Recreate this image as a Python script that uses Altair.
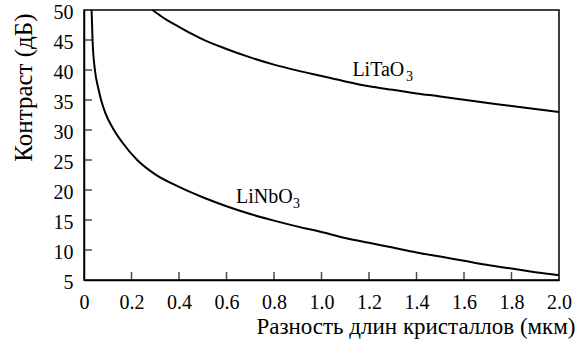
import altair as alt
import pandas as pd

# LiNbO3 curve (contrast in dB vs crystal length difference, µm)
nb_x = [0.032, 0.036, 0.046, 0.06, 0.072, 0.09, 0.126, 0.16, 0.224, 0.3, 0.407,
        0.5, 0.6, 0.7, 0.8, 0.9, 1.0, 1.1, 1.2, 1.3, 1.4, 1.5, 1.6, 1.7, 1.8, 1.9, 2.0]
nb_y = [50, 45, 40, 37, 35, 32.8, 30, 28, 25, 22.6, 20.4,
        18.8, 17.3, 16.0, 14.9, 13.9, 13.0, 12.0, 11.2, 10.4, 9.6, 8.9, 8.2, 7.5, 6.9, 6.3, 5.8]

# LiTaO3 curve
ta_x = [0.288, 0.32, 0.35, 0.4, 0.45, 0.5, 0.6, 0.7, 0.8, 0.9, 1.0, 1.1, 1.2, 1.3, 1.4,
        1.5, 1.6, 1.7, 1.8, 1.9, 2.0]
ta_y = [50, 49.1, 48.3, 47.2, 46.1, 45.1, 43.5, 42.1, 40.9, 39.9, 39.0, 38.1, 37.3, 36.7,
        36.1, 35.6, 35.05, 34.5, 34.0, 33.5, 33.0]

x_ticks = [0, 0.2, 0.4, 0.6, 0.8, 1.0, 1.2, 1.4, 1.6, 1.8, 2.0]
y_ticks = [5, 10, 15, 20, 25, 30, 35, 40, 45, 50]
x_inner = [0.2, 0.4, 0.6, 0.8, 1.0, 1.2, 1.4, 1.6, 1.8]
y_inner = [10, 15, 20, 25, 30, 35, 40, 45]

ta_label = ("LiTaO", "3", 1.13, 39.0)
nb_label = ("LiNbO", "3", 0.64, 17.9)

x_title = "Разность длин кристаллов (мкм)"
y_title = "Контраст (дБ)"

FONT = "Liberation Serif"
AXFONT = "Times New Roman, Liberation Serif, serif"

curves = pd.concat([
    pd.DataFrame({"x": nb_x, "y": nb_y, "s": "LiNbO3"}),
    pd.DataFrame({"x": ta_x, "y": ta_y, "s": "LiTaO3"}),
])

xs = alt.Scale(domain=[0, 2], nice=False, zero=False)
ys = alt.Scale(domain=[5, 50], nice=False, zero=False)

x_axis = alt.Axis(
    values=x_ticks, tickSize=0, grid=False, domainColor="black", domainWidth=1.5,
    labelFont=AXFONT, labelFontSize=20, labelColor="black", labelPadding=12,
    labelExpr="datum.value == 0 ? '0' : format(datum.value, '.1f')",
    labelFlush=False, labelOverlap=False,
    title=x_title, titleFont=AXFONT, titleFontSize=23, titleFontWeight="normal",
    titleColor="black", titleAnchor="end", titleAlign="right", titleX=491, titleY=53,
    titleBaseline="alphabetic")
y_axis = alt.Axis(
    values=y_ticks, tickSize=0, grid=False, domainColor="black", domainWidth=1.5,
    labelFont=AXFONT, labelFontSize=20, labelColor="black", labelPadding=11,
    labelFlush=False, labelOverlap=False, labelOffset=2,
    title=y_title, titleFont=AXFONT, titleFontSize=25, titleFontWeight="normal",
    titleColor="black", titleAnchor="end", titleAlign="right", titleAngle=270,
    titleX=-53, titleY=3, titleBaseline="alphabetic")


def X(f):
    return alt.X(f, scale=xs, axis=x_axis)


def Y(f):
    return alt.Y(f, scale=ys, axis=y_axis)


lines = alt.Chart(curves).mark_line(color="black", strokeWidth=2, interpolate="monotone").encode(
    x=X("x:Q"), y=Y("y:Q"), detail="s:N")

xt = alt.Chart(pd.DataFrame({"v": x_inner, "b": 5})).mark_tick(
    color="black", thickness=1.5, size=8, yOffset=-4, orient="vertical").encode(
    x=X("v:Q"), y=Y("b:Q"))

yt = alt.Chart(pd.DataFrame({"v": y_inner, "b": 0})).mark_tick(
    color="black", thickness=1.5, size=8, xOffset=4, orient="horizontal").encode(
    y=Y("v:Q"), x=X("b:Q"))


def label_layers(lab, dx):
    name, sub, lx, ly = lab
    d = pd.DataFrame({"name": [name], "sub": [sub], "x": [lx], "y": [ly]})
    main = alt.Chart(d).mark_text(
        font=FONT, fontSize=20, color="black", align="left", baseline="alphabetic").encode(
        x=X("x:Q"), y=Y("y:Q"), text="name:N")
    s = alt.Chart(d).mark_text(
        font=FONT, fontSize=14, color="black", align="left", baseline="alphabetic",
        dx=dx, dy=5).encode(
        x=X("x:Q"), y=Y("y:Q"), text="sub:N")
    return [main, s]


chart = alt.layer(lines, xt, yt, *label_layers(ta_label, 53.5), *label_layers(nb_label, 57)).properties(
    width=475, height=270,
    padding={"left": 84, "top": 10, "right": 22, "bottom": 64},
    autosize=alt.AutoSizeParams(type="none"),
    background="white",
).configure(font=FONT).configure_view(stroke="black", strokeWidth=1.5)

chart.save("out.html", embed_options={"renderer": "svg", "actions": False})
